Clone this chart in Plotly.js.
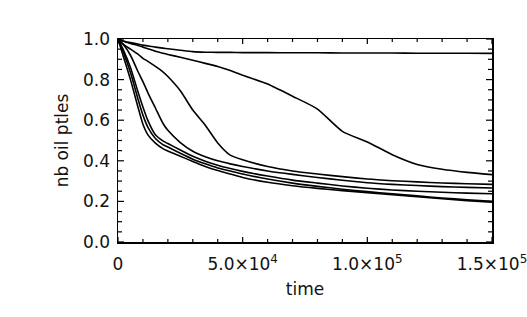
<!DOCTYPE html>
<html>
<head>
<meta charset="utf-8">
<script src="https://cdn.plot.ly/plotly-3.0.1.min.js"></script>
<style>
html,body{margin:0;padding:0;background:#fff;}
#chart{width:527px;height:317px;}
</style>
</head>
<body>
<div id="chart"></div>
<script>
// time samples
var time = [0, 2000, 5000, 8000, 10000, 12000, 15000, 18000, 20000, 25000, 30000, 35000, 40000, 45000, 50000, 60000, 70000, 80000, 90000, 100000, 110000, 120000, 130000, 140000, 150000];

// series (fraction of oil particles)
var runA = [1.0, 0.99, 0.982, 0.975, 0.97, 0.966, 0.96, 0.955, 0.952, 0.945, 0.938, 0.935, 0.934, 0.934, 0.933, 0.933, 0.932, 0.932, 0.931, 0.931, 0.931, 0.930, 0.930, 0.930, 0.929];
var runB = [1.0, 0.99, 0.978, 0.968, 0.96, 0.952, 0.94, 0.93, 0.924, 0.91, 0.895, 0.88, 0.865, 0.845, 0.822, 0.778, 0.718, 0.655, 0.545, 0.493, 0.43, 0.382, 0.358, 0.343, 0.332];
var runC = [1.0, 0.975, 0.95, 0.925, 0.905, 0.89, 0.865, 0.838, 0.815, 0.745, 0.65, 0.575, 0.488, 0.428, 0.405, 0.372, 0.35, 0.335, 0.322, 0.31, 0.302, 0.296, 0.291, 0.287, 0.284];
var runD = [1.0, 0.975, 0.92, 0.84, 0.79, 0.735, 0.66, 0.585, 0.55, 0.49, 0.447, 0.42, 0.4, 0.385, 0.372, 0.35, 0.333, 0.318, 0.304, 0.292, 0.284, 0.278, 0.273, 0.269, 0.266];
var runE = [1.0, 0.95, 0.86, 0.74, 0.665, 0.598, 0.528, 0.498, 0.485, 0.453, 0.422, 0.398, 0.378, 0.362, 0.348, 0.325, 0.305, 0.29, 0.276, 0.265, 0.256, 0.25, 0.245, 0.241, 0.238];
var runF = [1.0, 0.94, 0.835, 0.705, 0.625, 0.565, 0.51, 0.48, 0.468, 0.437, 0.408, 0.385, 0.365, 0.35, 0.335, 0.31, 0.29, 0.274, 0.26, 0.248, 0.237, 0.227, 0.217, 0.208, 0.2];
var runG = [1.0, 0.92, 0.8, 0.665, 0.58, 0.528, 0.487, 0.46, 0.448, 0.422, 0.397, 0.372, 0.352, 0.335, 0.318, 0.294, 0.277, 0.264, 0.253, 0.243, 0.233, 0.223, 0.213, 0.204, 0.196];

// tick labels
var xTickVals = [0, 50000, 100000, 150000];
var xTickText = ['0', '5.0\u00d710<sup>4</sup>', '1.0\u00d710<sup>5</sup>', '1.5\u00d710<sup>5</sup>'];
var yTickVals = [0, 0.2, 0.4, 0.6, 0.8, 1.0];
var yTickText = ['0.0', '0.2', '0.4', '0.6', '0.8', '1.0'];
var xMinorStep = 10000;
var yMinorStep = 0.05;

var series = [runA, runB, runC, runD, runE, runF, runG];
var traces = series.map(function (s) {
  return {x: time, y: s, type: 'scatter', mode: 'lines',
          line: {color: '#000', width: 1.6, shape: 'spline', smoothing: 0.6},
          hoverinfo: 'skip', showlegend: false};
});

// tick marks (inside, mirrored on all four sides)
var W = 374, H = 203;
var shapes = [];
function tickLine(xref, yref, x0, x1, y0, y1, w) {
  shapes.push({type: 'line', xref: xref, yref: yref, x0: x0, x1: x1, y0: y0, y1: y1,
               layer: 'above', line: {color: '#000', width: w}});
}
var xMax = xTickVals[xTickVals.length - 1];
for (var i = 0; i * xMinorStep <= xMax + 1e-9; i++) {
  var xv = i * xMinorStep;
  var major = xTickVals.indexOf(xv) >= 0;
  var len = (major ? 5 : 3) / H;
  tickLine('x', 'paper', xv, xv, 0, len, 1.2);
  tickLine('x', 'paper', xv, xv, 1, 1 - len, 1.2);
}
for (var j = 0; j * yMinorStep <= 1.0 + 1e-9; j++) {
  var yv = Math.round(j * yMinorStep * 100) / 100;
  var majorY = yTickVals.some(function (t) { return Math.abs(t - yv) < 1e-9; });
  var lenY = (majorY ? 6 : 4) / W;
  tickLine('paper', 'y', 0, lenY, yv, yv, 1.2);
  tickLine('paper', 'y', 1, 1 - lenY, yv, yv, 1.2);
}

var fontFam = 'DejaVu Sans, Arial, sans-serif';
var txt = {family: fontFam, size: 17, color: '#111'};
var layout = {
  width: 527, height: 317,
  margin: {l: 118, r: 35, t: 39, b: 75, pad: 0},
  paper_bgcolor: '#fff', plot_bgcolor: '#fff',
  showlegend: false,
  font: txt,
  shapes: shapes,
  xaxis: {
    range: [0, 150000], showgrid: false, zeroline: false,
    showline: true, linecolor: '#000', linewidth: 1.5, mirror: true,
    ticks: '', tickmode: 'array', tickvals: xTickVals, ticktext: xTickText,
    ticklabelstandoff: 6, ticklabeloverflow: 'allow', tickfont: txt,
    title: {text: 'time', font: txt, standoff: 10}
  },
  yaxis: {
    range: [0, 1.0], showgrid: false, zeroline: false,
    showline: true, linecolor: '#000', linewidth: 1.5, mirror: true,
    ticks: '', tickmode: 'array', tickvals: yTickVals, ticktext: yTickText,
    ticklabelstandoff: 3, ticklabeloverflow: 'allow', tickfont: txt,
    title: {text: 'nb oil ptles', font: txt, standoff: 10}
  }
};

Plotly.newPlot('chart', traces, layout, {staticPlot: true, displayModeBar: false});
</script>
</body>
</html>
